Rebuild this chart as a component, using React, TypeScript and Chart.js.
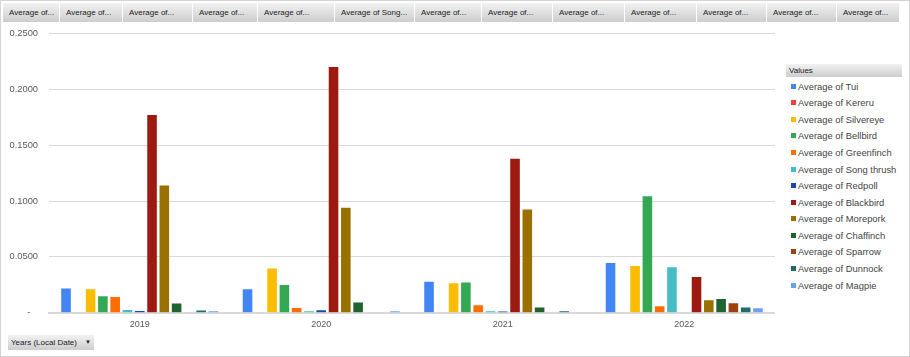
import React, { useEffect, useRef } from "react";
import { Chart, registerables } from "chart.js";

Chart.register(...registerables);

const years = ["2019", "2020", "2021", "2022"];
const seriesNames = [
  "Average of Tui",
  "Average of Kereru",
  "Average of Silvereye",
  "Average of Bellbird",
  "Average of Greenfinch",
  "Average of Song thrush",
  "Average of Redpoll",
  "Average of Blackbird",
  "Average of Morepork",
  "Average of Chaffinch",
  "Average of Sparrow",
  "Average of Dunnock",
  "Average of Magpie",
];
const tui = [0.0216, 0.021, 0.0278, 0.0445];
const kereru = [0, 0, 0, 0];
const silvereye = [0.021, 0.0397, 0.0263, 0.0418];
const bellbird = [0.0147, 0.0248, 0.027, 0.1043];
const greenfinch = [0.014, 0.0043, 0.0067, 0.0058];
const songThrush = [0.0025, 0.0013, 0.0013, 0.0406];
const redpoll = [0.0015, 0.0022, 0.001, 0];
const blackbird = [0.177, 0.22, 0.138, 0.032];
const morepork = [0.114, 0.094, 0.0924, 0.0112];
const chaffinch = [0.0082, 0.0091, 0.0046, 0.0123];
const sparrow = [0, 0, 0, 0.0085];
const dunnock = [0.002, 0, 0.0013, 0.0046];
const magpie = [0.0013, 0.0013, 0, 0.004];
const seriesValues = [
  tui, kereru, silvereye, bellbird, greenfinch, songThrush, redpoll,
  blackbird, morepork, chaffinch, sparrow, dunnock, magpie,
];
const colors = [
  "#4285F4", "#EA4335", "#FBBC04", "#34A853", "#FF6D01", "#46BDC6",
  "#1A47B0", "#9C1A10", "#9A7100", "#1E6330", "#9C4110", "#1F6B6E", "#6C9FF8",
];
const yTicks = [0, 0.05, 0.1, 0.15, 0.2, 0.25];
const headerButtons = [
  "Average of...", "Average of...", "Average of...", "Average of...", "Average of...",
  "Average of Song...", "Average of...", "Average of...", "Average of...", "Average of...",
  "Average of...", "Average of...", "Average of...",
];
const headerEdges = [3, 60, 123, 193, 258, 335, 415, 482, 553, 625, 697, 767, 837, 900];

const FONT = "'Liberation Sans', Arial, sans-serif";

export default function App() {
  const ref = useRef<HTMLCanvasElement | null>(null);
  useEffect(() => {
    if (!ref.current) return;
    const chart = new Chart(ref.current, {
      type: "bar",
      data: {
        labels: years,
        datasets: seriesNames.map((n, i) => ({
          label: n,
          data: seriesValues[i],
          backgroundColor: colors[i],
          borderWidth: 0,
          categoryPercentage: 0.88,
          barPercentage: 0.78,
        })),
      },
      options: {
        animation: false,
        responsive: false,
        maintainAspectRatio: false,
        layout: { padding: { top: 0, left: 0, right: 0, bottom: 0 } },
        plugins: { legend: { display: false }, tooltip: { enabled: false } },
        scales: {
          x: {
            grid: { display: false },
            border: { display: true, color: "#d9d9d9", width: 2 },
            ticks: { color: "#595959", font: { family: FONT, size: 9 }, padding: -2 },
            afterFit: (s: any) => { s.height = 22.3; },
          },
          y: {
            min: 0,
            max: 0.25,
            afterBuildTicks: (s: any) => { s.ticks = yTicks.map((v) => ({ value: v })); },
            grid: { color: "#d9d9d9", drawTicks: false },
            border: { display: false },
            ticks: {
              color: "#595959",
              font: { family: FONT, size: 9.3 },
              padding: 11,
              callback: (v: any) => (Number(v) === 0 ? "-   " : Number(v).toFixed(4)),
            },
            afterFit: (s: any) => { s.width = 49; },
          },
        },
      },
    });
    return () => chart.destroy();
  }, []);

  const btn: React.CSSProperties = {
    position: "absolute",
    boxSizing: "border-box",
    background: "linear-gradient(#f2f2f2, #cdcdcd)",
    borderRight: "1px solid #ffffff",
    fontFamily: FONT,
    fontSize: 8,
    color: "#222",
    whiteSpace: "nowrap",
    overflow: "hidden",
  };

  return (
    <div
      style={{
        position: "absolute",
        left: 0,
        top: 0,
        width: 910,
        height: 357,
        boxSizing: "border-box",
        border: "1px solid #d4d4d4",
        background: "#fff",
        overflow: "hidden",
      }}
    >
      <canvas
        ref={ref}
        width={775}
        height={318}
        style={{ position: "absolute", left: -1, top: 16, width: 775, height: 318 }}
      />
      {headerButtons.map((t, i) => (
        <div
          key={i}
          style={{
            ...btn,
            left: headerEdges[i] - 1,
            top: 2,
            width: headerEdges[i + 1] - headerEdges[i],
            height: 19,
            lineHeight: "19px",
            paddingLeft: 6,
          }}
        >
          {t}
        </div>
      ))}
      <div
        style={{
          ...btn,
          left: 785,
          top: 63,
          width: 116,
          height: 13,
          lineHeight: "13px",
          paddingLeft: 3,
          borderRight: "none",
        }}
      >
        Values
      </div>
      {seriesNames.map((n, i) => (
        <div
          key={n}
          style={{
            position: "absolute",
            left: 790,
            top: 85.7 + 16.57 * i - 7,
            height: 14,
            lineHeight: "14px",
            fontFamily: FONT,
            fontSize: 9.4,
            color: "#444",
            whiteSpace: "nowrap",
          }}
        >
          <span
            style={{
              display: "inline-block",
              width: 5,
              height: 5,
              background: colors[i],
              marginRight: 2,
              verticalAlign: "middle",
              position: "relative",
              top: -1,
            }}
          />
          {n}
        </div>
      ))}
      <div
        style={{
          ...btn,
          left: 7,
          top: 334,
          width: 86,
          height: 15,
          lineHeight: "15px",
          paddingLeft: 3,
          borderRight: "none",
        }}
      >
        Years (Local Date)
        <span style={{ position: "absolute", left: 77, top: 0, fontSize: 6 }}>▼</span>
      </div>
    </div>
  );
}
